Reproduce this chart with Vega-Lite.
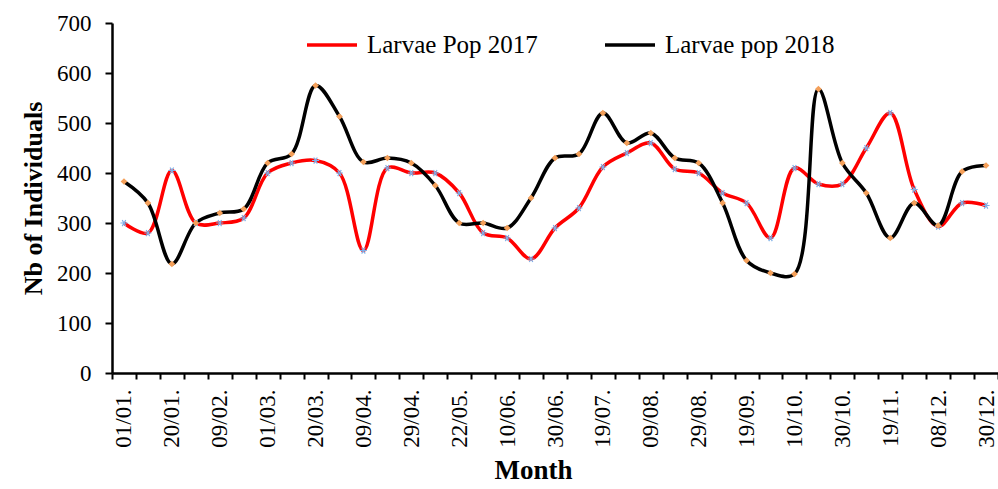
{
  "$schema": "https://vega.github.io/schema/vega-lite/v6.json",
  "width": 886,
  "height": 350,
  "autosize": "none",
  "padding": {"left": 112, "top": 23, "right": 0, "bottom": 116},
  "background": "white",
  "config": {
    "font": "Liberation Serif",
    "view": {"stroke": null},
    "axis": {"labelFont": "Liberation Serif", "titleFont": "Liberation Serif"},
    "legend": {"labelFont": "Liberation Serif"}
  },
  "data": {"values": [
    {"date": "01/01.", "series": "Larvae Pop 2017", "value": 300},
    {"date": "10/01.", "series": "Larvae Pop 2017", "value": 280},
    {"date": "20/01.", "series": "Larvae Pop 2017", "value": 405},
    {"date": "30/01.", "series": "Larvae Pop 2017", "value": 300},
    {"date": "09/02.", "series": "Larvae Pop 2017", "value": 300},
    {"date": "19/02.", "series": "Larvae Pop 2017", "value": 310},
    {"date": "01/03.", "series": "Larvae Pop 2017", "value": 400},
    {"date": "10/03.", "series": "Larvae Pop 2017", "value": 420},
    {"date": "20/03.", "series": "Larvae Pop 2017", "value": 425},
    {"date": "30/03.", "series": "Larvae Pop 2017", "value": 400},
    {"date": "09/04.", "series": "Larvae Pop 2017", "value": 245},
    {"date": "19/04.", "series": "Larvae Pop 2017", "value": 410},
    {"date": "29/04.", "series": "Larvae Pop 2017", "value": 400},
    {"date": "11/05.", "series": "Larvae Pop 2017", "value": 400},
    {"date": "22/05.", "series": "Larvae Pop 2017", "value": 360},
    {"date": "01/06.", "series": "Larvae Pop 2017", "value": 280},
    {"date": "10/06.", "series": "Larvae Pop 2017", "value": 270},
    {"date": "20/06.", "series": "Larvae Pop 2017", "value": 228},
    {"date": "30/06.", "series": "Larvae Pop 2017", "value": 290},
    {"date": "09/07.", "series": "Larvae Pop 2017", "value": 330},
    {"date": "19/07.", "series": "Larvae Pop 2017", "value": 412},
    {"date": "29/07.", "series": "Larvae Pop 2017", "value": 440},
    {"date": "09/08.", "series": "Larvae Pop 2017", "value": 460},
    {"date": "19/08.", "series": "Larvae Pop 2017", "value": 408},
    {"date": "29/08.", "series": "Larvae Pop 2017", "value": 400},
    {"date": "08/09.", "series": "Larvae Pop 2017", "value": 360},
    {"date": "19/09.", "series": "Larvae Pop 2017", "value": 340},
    {"date": "29/09.", "series": "Larvae Pop 2017", "value": 270},
    {"date": "10/10.", "series": "Larvae Pop 2017", "value": 410},
    {"date": "20/10.", "series": "Larvae Pop 2017", "value": 378},
    {"date": "30/10.", "series": "Larvae Pop 2017", "value": 378},
    {"date": "09/11.", "series": "Larvae Pop 2017", "value": 450},
    {"date": "19/11.", "series": "Larvae Pop 2017", "value": 520},
    {"date": "29/11.", "series": "Larvae Pop 2017", "value": 367},
    {"date": "08/12.", "series": "Larvae Pop 2017", "value": 293},
    {"date": "19/12.", "series": "Larvae Pop 2017", "value": 340},
    {"date": "30/12.", "series": "Larvae Pop 2017", "value": 335},
    {"date": "01/01.", "series": "Larvae pop 2018", "value": 383},
    {"date": "10/01.", "series": "Larvae pop 2018", "value": 340},
    {"date": "20/01.", "series": "Larvae pop 2018", "value": 218},
    {"date": "30/01.", "series": "Larvae pop 2018", "value": 300},
    {"date": "09/02.", "series": "Larvae pop 2018", "value": 320},
    {"date": "19/02.", "series": "Larvae pop 2018", "value": 328},
    {"date": "01/03.", "series": "Larvae pop 2018", "value": 420},
    {"date": "10/03.", "series": "Larvae pop 2018", "value": 438},
    {"date": "20/03.", "series": "Larvae pop 2018", "value": 575},
    {"date": "30/03.", "series": "Larvae pop 2018", "value": 513},
    {"date": "09/04.", "series": "Larvae pop 2018", "value": 422},
    {"date": "19/04.", "series": "Larvae pop 2018", "value": 430},
    {"date": "29/04.", "series": "Larvae pop 2018", "value": 420},
    {"date": "11/05.", "series": "Larvae pop 2018", "value": 375},
    {"date": "22/05.", "series": "Larvae pop 2018", "value": 300},
    {"date": "01/06.", "series": "Larvae pop 2018", "value": 300},
    {"date": "10/06.", "series": "Larvae pop 2018", "value": 290},
    {"date": "20/06.", "series": "Larvae pop 2018", "value": 350},
    {"date": "30/06.", "series": "Larvae pop 2018", "value": 430},
    {"date": "09/07.", "series": "Larvae pop 2018", "value": 438},
    {"date": "19/07.", "series": "Larvae pop 2018", "value": 520},
    {"date": "29/07.", "series": "Larvae pop 2018", "value": 460},
    {"date": "09/08.", "series": "Larvae pop 2018", "value": 480},
    {"date": "19/08.", "series": "Larvae pop 2018", "value": 430},
    {"date": "29/08.", "series": "Larvae pop 2018", "value": 420},
    {"date": "08/09.", "series": "Larvae pop 2018", "value": 340},
    {"date": "19/09.", "series": "Larvae pop 2018", "value": 225},
    {"date": "29/09.", "series": "Larvae pop 2018", "value": 200},
    {"date": "10/10.", "series": "Larvae pop 2018", "value": 198},
    {"date": "20/10.", "series": "Larvae pop 2018", "value": 568},
    {"date": "30/10.", "series": "Larvae pop 2018", "value": 420},
    {"date": "09/11.", "series": "Larvae pop 2018", "value": 360},
    {"date": "19/11.", "series": "Larvae pop 2018", "value": 270},
    {"date": "29/11.", "series": "Larvae pop 2018", "value": 340},
    {"date": "08/12.", "series": "Larvae pop 2018", "value": 295},
    {"date": "19/12.", "series": "Larvae pop 2018", "value": 403},
    {"date": "30/12.", "series": "Larvae pop 2018", "value": 415}
  ]},
  "encoding": {
    "x": {
      "field": "date",
      "type": "ordinal",
      "sort": null,
      "scale": {"type": "band", "paddingInner": 0, "paddingOuter": 0},
      "axis": {
        "title": "Month",
        "titleFontSize": 27,
        "titleFontWeight": "bold",
        "titleColor": "black",
        "titlePadding": 10,
        "titleX": 421,
        "labelAngle": -90,
        "labelFontSize": 23,
        "labelColor": "black",
        "labelPadding": 10,
        "labelExpr": "indexof(['01/01.','20/01.','09/02.','01/03.','20/03.','09/04.','29/04.','22/05.','10/06.','30/06.','19/07.','09/08.','29/08.','19/09.','10/10.','30/10.','19/11.','08/12.','30/12.'], datum.value) >= 0 ? datum.value : ''",
        "tickBand": "extent",
        "tickSize": 6,
        "tickWidth": 2,
        "tickColor": "black",
        "domainColor": "black",
        "domainWidth": 2.5,
        "grid": false
      }
    },
    "y": {
      "field": "value",
      "type": "quantitative",
      "scale": {"domain": [0, 700], "nice": false},
      "axis": {
        "title": "Nb of Individuals",
        "titleFontSize": 26,
        "titleFontWeight": "bold",
        "titleColor": "black",
        "titlePadding": 10,
        "values": [0, 100, 200, 300, 400, 500, 600, 700],
        "labelFontSize": 23,
        "labelColor": "black",
        "labelPadding": 14,
        "tickSize": 7,
        "tickWidth": 2,
        "tickColor": "black",
        "domainColor": "black",
        "domainWidth": 2.5,
        "grid": false
      }
    }
  },
  "layer": [
    {
      "mark": {"type": "line", "interpolate": "catmull-rom", "strokeWidth": 3.5},
      "encoding": {
        "color": {
          "field": "series",
          "type": "nominal",
          "scale": {"domain": ["Larvae Pop 2017", "Larvae pop 2018"], "range": ["#ff0000", "#000000"]},
          "legend": {
            "title": null,
            "orient": "none",
            "legendX": 193,
            "legendY": -5,
            "direction": "horizontal",
            "symbolType": "M-1,0L1,0",
            "symbolSize": 2500,
            "symbolStrokeWidth": 3.5,
            "labelFontSize": 25,
            "labelLimit": 400,
            "labelColor": "black",
            "labelOffset": 8,
            "columnPadding": 60
          }
        }
      }
    },
    {
      "transform": [{"filter": "datum.series == 'Larvae Pop 2017'"}],
      "mark": {
        "type": "point",
        "shape": "M-1,0L1,0M-0.5,-0.87L0.5,0.87M-0.5,0.87L0.5,-0.87",
        "size": 50,
        "filled": false,
        "stroke": "#7fb0e8",
        "strokeWidth": 1.2,
        "opacity": 1
      }
    },
    {
      "transform": [{"filter": "datum.series == 'Larvae pop 2018'"}],
      "mark": {
        "type": "point",
        "shape": "diamond",
        "size": 45,
        "filled": true,
        "fill": "#f5a05a",
        "opacity": 1
      }
    }
  ]
}
